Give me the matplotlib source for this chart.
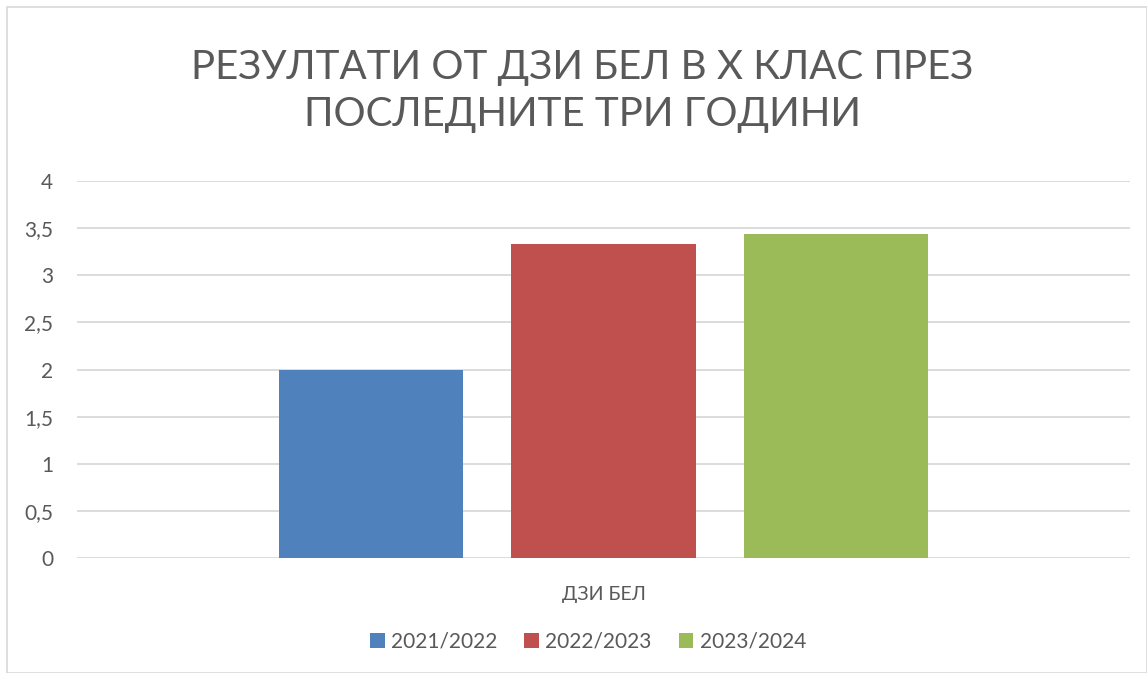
import matplotlib
matplotlib.use("Agg")
import matplotlib.pyplot as plt
from matplotlib.patches import Rectangle
from matplotlib.ticker import FuncFormatter

plt.rcParams['font.family'] = ['Lato', 'DejaVu Sans']

title = "РЕЗУЛТАТИ ОТ ДЗИ БЕЛ В Х КЛАС ПРЕЗ\nПОСЛЕДНИТЕ ТРИ ГОДИНИ"
category = "ДЗИ БЕЛ"
series = ["2021/2022", "2022/2023", "2023/2024"]
values = [2.0, 3.33, 3.44]
colors = ["#4F81BD", "#C0504D", "#9BBB59"]
yticks = [0, 0.5, 1, 1.5, 2, 2.5, 3, 3.5, 4]

W, H = 1147, 673
fig = plt.figure(figsize=(W / 100, H / 100), dpi=100)
fig.patches.append(Rectangle((7 / W, 0), 1 - 7 / W - 0.5 / W, 1 - 7 / H, transform=fig.transFigure,
                             fill=False, edgecolor="#d9d9d9", linewidth=1.2))

ax = fig.add_axes([77 / W, 1 - 558 / H, (1130 - 77) / W, (558 - 181) / H])
offsets = [-1, 0, 1]
bars = []
for off, name, v, c in zip(offsets, series, values, colors):
    b = ax.bar(off, v, width=0.79, color=c, label=name, zorder=3)
    bars.append(b)

ax.set_xlim(-2.26, 2.26)
ax.set_ylim(0, 4)
ax.set_yticks(yticks)
ax.yaxis.set_major_formatter(FuncFormatter(lambda v, p: ("%g" % v).replace(".", ",")))
ax.grid(axis="y", color="#d9d9d9", linewidth=1.3, zorder=0)
for s in ax.spines.values():
    s.set_visible(False)
ax.tick_params(axis="y", length=0, pad=17, labelsize=15, labelcolor="#595959")
ax.set_xticks([0])
ax.set_xticklabels([category])
ax.tick_params(axis="x", length=0, pad=20, labelsize=14, labelcolor="#595959")

fig.text(582 / W, 1 - 91 / H, title, ha="center", va="center", fontsize=29,
         color="#595959", linespacing=1.35)

leg = fig.legend(handles=[b[0] for b in bars], labels=series, loc="center",
                 bbox_to_anchor=(588 / W, 1 - 642 / H), ncol=3, frameon=False,
                 fontsize=15, handlelength=0.7, handleheight=0.7, handletextpad=0.3,
                 columnspacing=1.3)
for t in leg.get_texts():
    t.set_color("#595959")

fig.savefig("out.png", dpi=100)
